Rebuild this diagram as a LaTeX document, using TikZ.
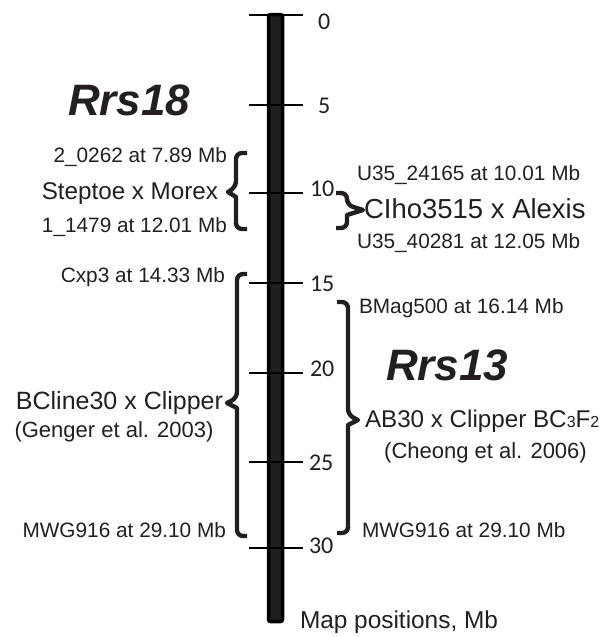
\documentclass[tikz,border=0pt]{standalone}
\usepackage{fontspec}
\setmainfont{Liberation Sans}
\newfontfamily\carl{Carlito}
\definecolor{ink}{HTML}{231F20}
\newcommand{\fs}[1]{\fontsize{#1}{#1}\selectfont}
\begin{document}
\begin{tikzpicture}[x=1pt,y=-1pt,
  brace/.style={draw=ink,line width=4.4pt,line cap=butt,line join=round},
  txt/.style={inner sep=0pt,outer sep=0pt,text=ink},
  mk/.style={txt,font=\fs{20.8}},
  big/.style={txt,font=\fs{24.2}},
  cite/.style={txt,font=\fs{22}},
  num/.style={txt,font=\carl\fs{24},anchor=west},
  gene/.style={txt,font=\fs{44}\bfseries\itshape},
  tickline/.style={draw=black,line width=2.8pt}]
\useasboundingbox (0,0) rectangle (608,637);

% chromosome bar
\node[draw=black,line width=3.5pt,fill=black!88,rounded corners=2pt,
      minimum width=14pt,minimum height=607pt,inner sep=0pt] (bar) at (275.5,318) {};

% ticks and numbers
\foreach \yy/\lab/\lx/\ly in {15/0/318/21.5,105/5/318/106,193/10/310/188.5,
    283/15/310/283.5,373/20/310/368.5,462/25/309/462.5,548/30/309/546}{
  \draw[tickline] (249,\yy) -- (303,\yy);
  \node[num] (n\lab) at (\lx,\ly) {\lab};
}

% gene names
\node[gene,anchor=base west] (r18) at (68,115) {Rrs18};
\node[gene,anchor=base west] (r13) at (386,380) {Rrs13};

% Steptoe x Morex
\node[mk,anchor=base east] (m1) at (227,162) {2\_0262 at 7.89 Mb};
\node[big,anchor=base east] (sm) at (218,199) {Steptoe x Morex};
\node[mk,anchor=base east] (m2) at (227,232) {1\_1479 at 12.01 Mb};
\draw[brace] (247,153) [rounded corners=6pt] -- (236,153) -- (236,187)
   [sharp corners] -- (228,192) -- (236,197) [rounded corners=6pt] -- (236,229) -- (247,229);

% CIho3515 x Alexis
\node[mk,anchor=base west] (u1) at (357,180) {U35\_24165 at 10.01 Mb};
\node[txt,font=\fs{27.5},anchor=base west] (ca) at (364,218) {CIho3515 x Alexis};
\node[mk,anchor=base west] (u2) at (357,248) {U35\_40281 at 12.05 Mb};
\draw[brace] (336,193) [rounded corners=6pt] -- (347,193) -- (347,205)
   [sharp corners] -- (363,210) -- (347,215) [rounded corners=6pt] -- (347,228) -- (336,228);

% BCline30 x Clipper
\node[mk,anchor=base east] (cx) at (225,282) {Cxp3 at 14.33 Mb};
\node[txt,font=\fs{25},anchor=base east] (bc) at (223,409) {BCline30 x Clipper};
\node[cite,anchor=base] (gg) at (114,437) {(Genger et al. 2003)};
\node[mk,anchor=base east] (mw1) at (226,537) {MWG916 at 29.10 Mb};
\draw[brace] (247,274) [rounded corners=6pt] -- (237,274) -- (237,398)
   [sharp corners] -- (227,403) -- (237,408) [rounded corners=6pt] -- (237,536) -- (247,536);

% AB30 x Clipper
\node[mk,anchor=base west] (bm) at (359,313) {BMag500 at 16.14 Mb};
\node[big,anchor=base west] (ab) at (365,427) {AB30 x Clipper BC{\fs{16}3}F{\fs{16}2}};
\node[cite,anchor=base] (ch) at (485.5,458) {(Cheong et al. 2006)};
\node[mk,anchor=base west] (mw2) at (362,537) {MWG916 at 29.10 Mb};
\draw[brace] (337,302) [rounded corners=6pt] -- (348,302) -- (348,415)
   [sharp corners] -- (358,420) -- (348,425) [rounded corners=6pt] -- (348,533) -- (337,533);

% axis caption
\node[txt,font=\fs{24.4},anchor=base west] (mp) at (300,628) {Map positions, Mb};
\end{tikzpicture}
\end{document}
